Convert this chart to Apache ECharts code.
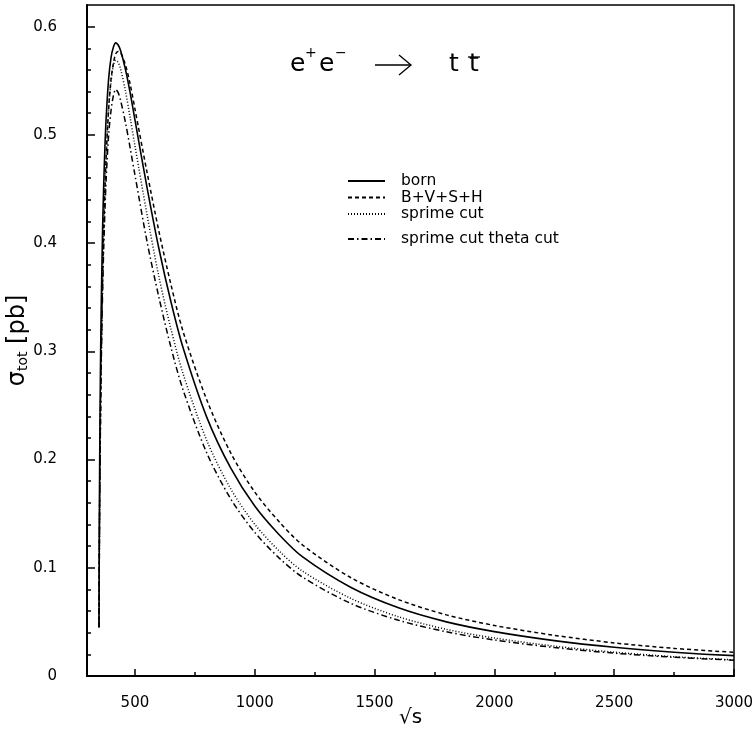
<!DOCTYPE html>
<html><head><meta charset="utf-8">
<script src="https://cdn.jsdelivr.net/npm/echarts@6/dist/echarts.min.js"></script>
<style>html,body{margin:0;padding:0;background:#fff}#c{width:755px;height:729px}</style>
</head><body><div id="c"></div>
<script>
// sqrt(s) [GeV]
const sqrtS = [350,352,355,357,360,365,370,375,380,390,400,410,420,430,440,460,480,500,550,600,650,700,800,900,1000,1100,1200,1400,1600,1800,2000,2250,2500,2750,3000];
// sigma_tot [pb]
const born = [0.045,0.168,0.258,0.301,0.350,0.412,0.456,0.490,0.516,0.551,0.571,0.581,0.585,0.583,0.578,0.561,0.539,0.514,0.452,0.395,0.346,0.304,0.239,0.192,0.157,0.131,0.110,0.082,0.063,0.050,0.041,0.0327,0.0265,0.022,0.0188];
const bvsh = [0.045,0.134,0.214,0.256,0.305,0.367,0.415,0.451,0.480,0.523,0.551,0.566,0.575,0.577,0.576,0.565,0.547,0.524,0.466,0.411,0.362,0.319,0.255,0.206,0.170,0.143,0.121,0.091,0.0706,0.0565,0.0467,0.0376,0.0306,0.0255,0.0219];
const sprime = [0.045,0.134,0.214,0.256,0.305,0.367,0.415,0.451,0.480,0.523,0.548,0.564,0.569,0.567,0.561,0.541,0.516,0.490,0.427,0.369,0.321,0.280,0.2175,0.1728,0.1402,0.1159,0.0968,0.0718,0.0547,0.0431,0.0351,0.0276,0.0220,0.0178,0.0149];
const sprimeTheta = [0.045,0.131,0.206,0.247,0.294,0.354,0.397,0.431,0.459,0.499,0.522,0.536,0.542,0.539,0.532,0.512,0.488,0.463,0.402,0.350,0.304,0.265,0.206,0.1636,0.1327,0.1094,0.0913,0.0672,0.0515,0.0408,0.0333,0.0263,0.0211,0.0173,0.0146];
const seriesNames = ['born','B+V+S+H','sprime cut','sprime cut theta cut'];
const xMajorTicks = [500,1000,1500,2000,2500,3000];
const xMinorTicks = [750,1250,1750,2250,2750];
const yMajorTicks = [0,0.1,0.2,0.3,0.4,0.5,0.6];
const yMinorTicks = [0.02,0.04,0.06,0.08,0.12,0.14,0.16,0.18,0.22,0.24,0.26,0.28,0.32,0.34,0.36,0.38,0.42,0.44,0.46,0.48,0.52,0.54,0.56,0.58];

const FONT = 'DejaVu Sans';
const pts = arr => sqrtS.map((x, i) => [x, arr[i]]);
const chart = echarts.init(document.getElementById('c'), null, {renderer: 'canvas'});
const mkSeries = (name, arr, type, width) => ({
  name, type: 'line', data: pts(arr), xAxisIndex: 0, yAxisIndex: 0,
  symbol: 'none', showSymbol: false, smooth: 0.3, animation: false,
  itemStyle: {color: '#000'},
  lineStyle: {color: '#000', width: width, type: type}
});
const legendText = {color: '#000', fontFamily: FONT, fontSize: 15.5, lineHeight: 16, padding: [0, 0, 0, 11]};
chart.setOption({
  animation: false,
  backgroundColor: '#fff',
  grid: {left: 87, right: 21, top: 5, bottom: 53, containLabel: false, outerBoundsMode: 'none',
    show: true, borderColor: '#000', borderWidth: 1.5, backgroundColor: 'transparent'},
  xAxis: [{
    type: 'value', min: 300, max: 3000, gridIndex: 0,
    axisLine: {show: true, lineStyle: {color: '#000', width: 2}},
    axisTick: {show: true, inside: true, length: 7, customValues: xMajorTicks, lineStyle: {color: '#000', width: 1.5}},
    axisLabel: {show: true, customValues: xMajorTicks, margin: 20, color: '#000', fontFamily: FONT, fontSize: 15,
      formatter: v => String(v)},
    splitLine: {show: false},
    name: '√s', nameLocation: 'middle', nameGap: 32, nameMoveOverlap: false,
    nameTextStyle: {color: '#000', fontFamily: FONT, fontSize: 20}
  }, {
    type: 'value', min: 300, max: 3000, gridIndex: 0, position: 'bottom',
    axisLine: {show: false},
    axisTick: {show: true, inside: true, length: 4, customValues: xMinorTicks, lineStyle: {color: '#000', width: 1.5}},
    axisLabel: {show: false}, splitLine: {show: false}
  }],
  yAxis: [{
    type: 'value', min: 0, max: 0.62, gridIndex: 0,
    axisLine: {show: true, lineStyle: {color: '#000', width: 2}},
    axisTick: {show: true, inside: true, length: 8, customValues: yMajorTicks, lineStyle: {color: '#000', width: 1.5}},
    axisLabel: {show: true, customValues: yMajorTicks, margin: 30, color: '#000', fontFamily: FONT, fontSize: 15},
    splitLine: {show: false},
    name: '{s|σ}{sub|tot}{s| [pb]}', nameLocation: 'middle', nameGap: 57, nameRotate: 90, nameMoveOverlap: false,
    nameTextStyle: {color: '#000', fontFamily: FONT,
      rich: {s: {fontSize: 24, fontFamily: FONT, color: '#000'}, sub: {fontSize: 14, fontFamily: FONT, color: '#000', padding: [10, 0, 0, 0]}}}
  }, {
    type: 'value', min: 0, max: 0.62, gridIndex: 0, position: 'left',
    axisLine: {show: false},
    axisTick: {show: true, inside: true, length: 4, customValues: yMinorTicks, lineStyle: {color: '#000', width: 1.5}},
    axisLabel: {show: false}, splitLine: {show: false}
  }],
  legend: [{
    data: seriesNames.slice(0, 3), orient: 'vertical', left: 347, top: 173, padding: 0,
    itemWidth: 37, itemHeight: 14, itemGap: 0.5,
    itemStyle: {opacity: 0},
    textStyle: legendText, selectedMode: false
  }, {
    data: seriesNames.slice(3), orient: 'vertical', left: 347, top: 231, padding: 0,
    itemWidth: 37, itemHeight: 14,
    itemStyle: {opacity: 0},
    textStyle: legendText, selectedMode: false
  }],
  graphic: [
    {type: 'text', left: 290, top: 52, style: {text: 'e', font: '25px "DejaVu Sans"', fill: '#000'}},
    {type: 'text', left: 305, top: 46, style: {text: '+', font: '14px "DejaVu Sans"', fill: '#000'}},
    {type: 'text', left: 319, top: 52, style: {text: 'e', font: '25px "DejaVu Sans"', fill: '#000'}},
    {type: 'text', left: 335, top: 46, style: {text: '−', font: '14px "DejaVu Sans"', fill: '#000'}},
    {type: 'polyline', shape: {points: [[375, 65], [411, 65]]}, style: {stroke: '#000', lineWidth: 1.3}},
    {type: 'polyline', shape: {points: [[399, 55], [411, 65], [399, 75]]}, style: {stroke: '#000', lineWidth: 1.3, fill: null}},
    {type: 'text', left: 449, top: 52, style: {text: 't', font: '25px "DejaVu Sans"', fill: '#000'}},
    {type: 'text', left: 469, top: 52, style: {text: 't', font: '25px "DejaVu Sans"', fill: '#000'}},
    {type: 'polyline', shape: {points: [[468, 57], [480, 57]]}, style: {stroke: '#000', lineWidth: 1.3}}
  ],
  series: [
    mkSeries(seriesNames[0], born, 'solid', 1.6),
    mkSeries(seriesNames[1], bvsh, [4, 3], 1.5),
    mkSeries(seriesNames[2], sprime, [1, 2], 1.5),
    mkSeries(seriesNames[3], sprimeTheta, [6, 3, 1.5, 3], 1.5)
  ]
});
</script></body></html>
